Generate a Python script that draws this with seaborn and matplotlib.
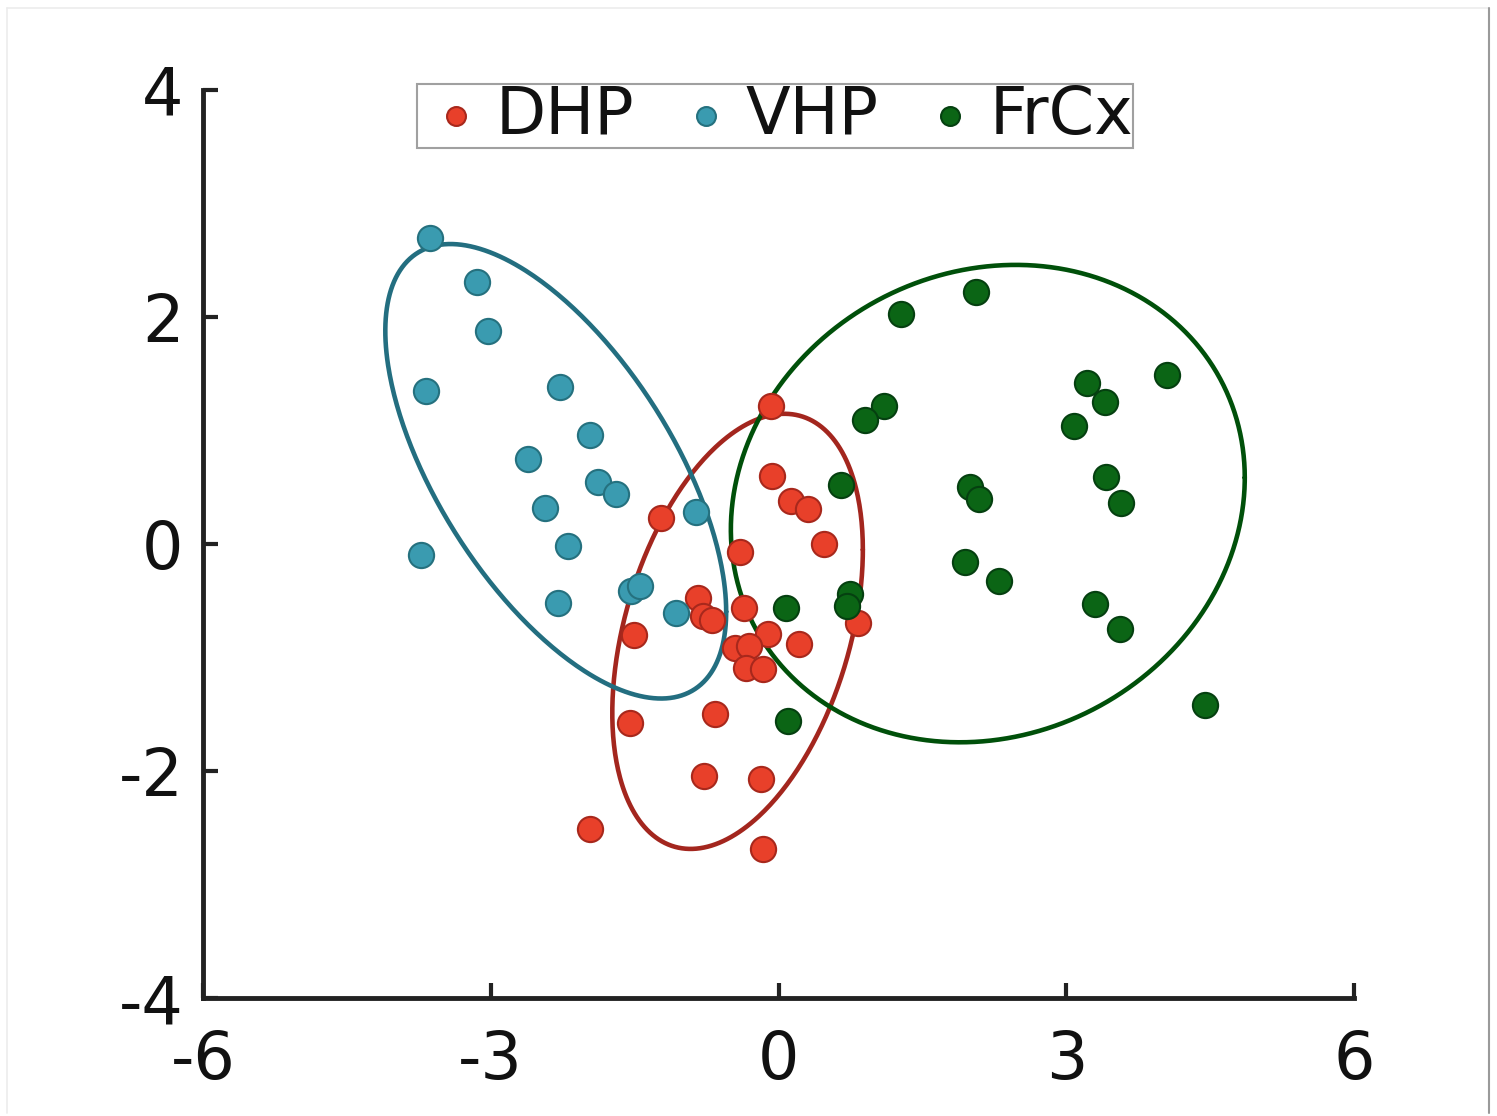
import numpy as np
import pandas as pd
import matplotlib
matplotlib.use('Agg')
import matplotlib.pyplot as plt
from matplotlib.lines import Line2D
import seaborn as sns

# ---------------------- DADOS ----------------------
dhp_x = [-0.08, -0.07, 0.13, 0.31, 0.47, -0.40, -1.23, -0.84, -0.79, -0.69,
         -0.36, -1.51, -0.11, 0.21, 0.83, -0.45, -0.31, -0.34, -0.16,
         -1.55, -0.66, -0.78, -0.18, -1.97, -0.16]
dhp_y = [1.22, 0.60, 0.38, 0.31, 0.00, -0.07, 0.23, -0.48, -0.63, -0.67,
         -0.56, -0.80, -0.79, -0.88, -0.70, -0.92, -0.90, -1.09, -1.10,
         -1.58, -1.50, -2.04, -2.07, -2.51, -2.69]

vhp_x = [-3.63, -3.14, -3.03, -3.68, -2.28, -1.97, -2.61, -1.88, -1.70,
         -2.44, -0.86, -2.19, -3.73, -2.30, -1.54, -1.44, -1.07]
vhp_y = [2.70, 2.31, 1.88, 1.35, 1.38, 0.96, 0.75, 0.55, 0.44,
         0.32, 0.28, -0.02, -0.10, -0.52, -0.41, -0.37, -0.61]

frcx_x = [2.06, 1.28, 4.05, 3.21, 3.40, 1.10, 0.90, 3.08, 0.65, 2.00, 2.09,
          3.41, 3.57, 1.94, 2.30, 3.30, 3.56, 0.08, 0.74, 0.71, 4.45, 0.10]
frcx_y = [2.22, 2.03, 1.49, 1.42, 1.25, 1.22, 1.09, 1.04, 0.52, 0.50, 0.40,
          0.59, 0.36, -0.16, -0.33, -0.53, -0.75, -0.56, -0.44, -0.55, -1.42, -1.56]

grupos = ['DHP', 'VHP', 'FrCx']
cores = {'DHP': '#E8402A', 'VHP': '#3A9BB0', 'FrCx': '#0B6515'}
bordas = {'DHP': '#A8281C', 'VHP': '#25717F', 'FrCx': '#054010'}
cores_elipse = {'DHP': '#A3261E', 'VHP': '#236E80', 'FrCx': '#00500A'}

df = pd.concat([
    pd.DataFrame({'x': dhp_x, 'y': dhp_y, 'Grupo': 'DHP'}),
    pd.DataFrame({'x': vhp_x, 'y': vhp_y, 'Grupo': 'VHP'}),
    pd.DataFrame({'x': frcx_x, 'y': frcx_y, 'Grupo': 'FrCx'}),
], ignore_index=True)

sns.set_style('white')
plt.rcParams['font.family'] = ['DejaVu Sans']
plt.rcParams['axes.unicode_minus'] = False

fig = plt.figure(figsize=(14.97, 11.16), dpi=100)
ax = fig.add_axes([0.1356, 0.1057, 0.769, 0.8137])

# moldura clara da figura
fig.add_artist(Line2D([0.0047, 0.9947], [0.993, 0.993], transform=fig.transFigure,
                      color='#ececec', lw=1.2))
fig.add_artist(Line2D([0.0047, 0.0047], [0.003, 0.993], transform=fig.transFigure,
                      color='#ececec', lw=1.2))
fig.add_artist(Line2D([0.9947, 0.9947], [0.003, 0.993], transform=fig.transFigure,
                      color='#9a9a9a', lw=1.5))

# elipses de 2 desvios-padrão (covariância de cada grupo)
t = np.linspace(0, 2 * np.pi, 400)
for g in grupos:
    pts = df.loc[df['Grupo'] == g, ['x', 'y']].to_numpy()
    media = pts.mean(axis=0)
    L = np.linalg.cholesky(np.cov(pts.T))
    el = media[:, None] + 2.0 * L @ np.vstack([np.cos(t), np.sin(t)])
    ax.plot(el[0], el[1], color=cores_elipse[g], lw=3.3, zorder=3)

for g in grupos:
    sns.scatterplot(data=df[df['Grupo'] == g], x='x', y='y', s=330,
                    color=cores[g], edgecolor=bordas[g], linewidth=1.5,
                    zorder=4, label=g, ax=ax)

ax.set_xlim(-6, 6)
ax.set_ylim(-4, 4)
ax.set_xticks([-6, -3, 0, 3, 6])
ax.set_yticks([-4, -2, 0, 2, 4])
ax.set_xlabel('')
ax.set_ylabel('')
ax.tick_params(direction='in', length=11, width=3, labelsize=47, colors='#222222',
               labelcolor='#111111', pad=14, left=True, bottom=True)
ax.tick_params(axis='x', pad=22)
for lado in ['top', 'right']:
    ax.spines[lado].set_visible(False)
for lado in ['left', 'bottom']:
    ax.spines[lado].set_linewidth(3.5)
    ax.spines[lado].set_color('#222222')

leg = ax.legend(loc='upper center', bbox_to_anchor=(0.497, 1.007), ncol=3,
                fontsize=47, markerscale=0.75, frameon=True, fancybox=False,
                handletextpad=0.0, columnspacing=0.5, borderpad=0.0,
                handlelength=1.2, borderaxespad=0, labelcolor='#111111')
leg.get_frame().set_edgecolor('#888888')
leg.get_frame().set_linewidth(1.5)

fig.savefig('out.png', dpi=100)
